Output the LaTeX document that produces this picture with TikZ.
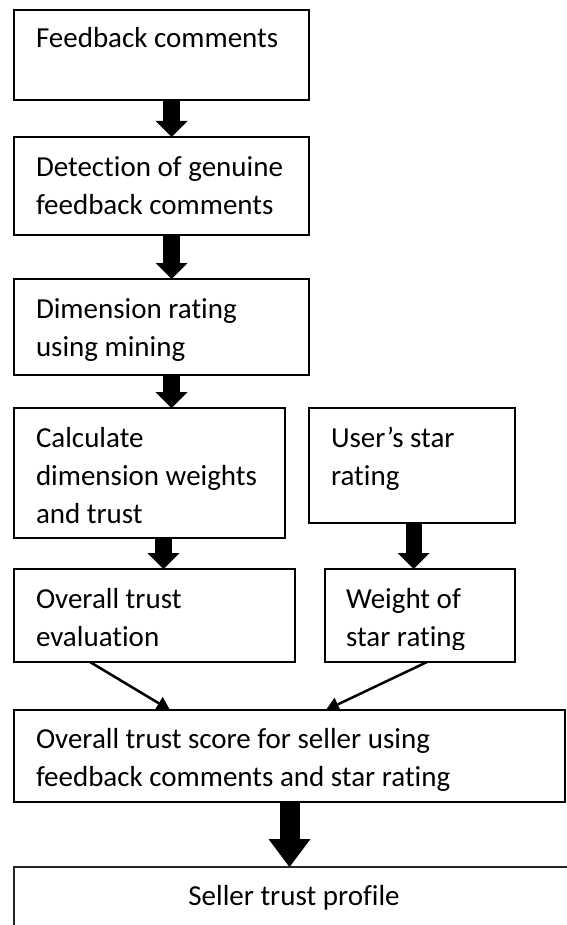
\documentclass[tikz,border=0pt]{standalone}
\usepackage{fontspec}
\setmainfont{Carlito}[Ligatures={NoCommon}]
\usetikzlibrary{arrows.meta}
\tikzset{
  box/.style={draw=black, line width=2pt, inner sep=0pt, outer sep=0pt, anchor=north west},
  openbox/.style={draw=black!85, line width=1.1pt, inner sep=0pt, outer sep=0pt, anchor=north west},
  lbl/.style={inner sep=0pt, outer sep=0pt, anchor=base west, font=\fontsize{29pt}{38pt}\selectfont},
  blockarrow/.style={line width=17pt, -{Triangle[width=32pt,length=16pt,line width=0pt]}},
  bigarrow/.style={line width=20pt, -{Triangle[width=42pt,length=28pt,line width=0pt]}},
  thinarrow/.style={line width=2.5pt, -{Triangle[width=15pt,length=13pt,line width=0pt]}},
}
\begin{document}
\begin{tikzpicture}[x=1pt, y=-1pt]
  \useasboundingbox (0,0) rectangle (566,925);

  % boxes
  \node[box, minimum width=295pt, minimum height=90pt]  (b1)     at (14,10)  {};
  \node[box, minimum width=295pt, minimum height=98pt]  (b2)     at (14,137) {};
  \node[box, minimum width=295pt, minimum height=96pt]  (b3)     at (14,279) {};
  \node[box, minimum width=271pt, minimum height=130pt] (calc)   at (14,408) {};
  \node[box, minimum width=206pt, minimum height=115pt] (user)   at (309,408) {};
  \node[box, minimum width=281pt, minimum height=93pt]  (eval)   at (14,569) {};
  \node[box, minimum width=190pt, minimum height=93pt]  (weight) at (325,569) {};
  \node[box, minimum width=551pt, minimum height=92pt]  (score)  at (14,710) {};
  \node[openbox, minimum width=600pt, minimum height=100pt] (profile) at (14,867) {};

  % box texts
  \node[lbl] (t1) at ([shift={(22pt,-38pt)}]b1.north west) {\parbox[t]{280pt}{Feedback comments}};
  \node[lbl] (t2) at ([shift={(22pt,-39.5pt)}]b2.north west) {\parbox[t]{280pt}{Detection of genuine\\feedback comments}};
  \node[lbl] (t3) at ([shift={(22pt,-39pt)}]b3.north west) {\parbox[t]{280pt}{Dimension rating\\using mining}};
  \node[lbl] (t4) at ([shift={(22pt,-39pt)}]calc.north west) {\parbox[t]{260pt}{Calculate\\dimension weights\\and trust}};
  \node[lbl] (t5) at ([shift={(22pt,-39pt)}]user.north west) {\parbox[t]{190pt}{User’s star\\rating}};
  \node[lbl] (t6) at ([shift={(22pt,-39pt)}]eval.north west) {\parbox[t]{260pt}{Overall trust\\evaluation}};
  \begin{scope}
    \clip (weight.north west) rectangle ([yshift=-80pt]weight.north east);
    \node[lbl] (t7) at ([shift={(21pt,-39pt)}]weight.north west) {\parbox[t]{180pt}{Weight of\\star rating}};
  \end{scope}
  \node[lbl] (t8) at ([shift={(22pt,-38pt)}]score.north west) {\parbox[t]{530pt}{Overall trust score for seller using\\feedback comments and star rating}};
  \node[lbl, anchor=base] (t9) at ([shift={(280pt,-38pt)}]profile.north west) {Seller trust profile};

  % arrow columns
  \coordinate (c1) at (171.5,0);
  \coordinate (c2) at (163.5,0);
  \coordinate (c3) at (413.5,0);
  \coordinate (d1) at (90,0);
  \coordinate (d2) at (170,0);
  \coordinate (d3) at (427,0);
  \coordinate (d4) at (326,0);

  % connectors
  \draw[blockarrow] (b1.south -| c1) -- (b2.north -| c1);
  \draw[blockarrow] (b2.south -| c1) -- (b3.north -| c1);
  \draw[blockarrow] (b3.south -| c1) -- (calc.north -| c1);
  \draw[blockarrow] (calc.south -| c2) -- (eval.north -| c2);
  \draw[blockarrow, line width=16pt] (user.south -| c3) -- (weight.north -| c3);
  \draw[thinarrow] (eval.south -| d1) -- (score.north -| d2);
  \draw[thinarrow] (weight.south -| d3) -- (score.north -| d4);
  \draw[bigarrow] (score.south) -- (profile.north -| score.south);
\end{tikzpicture}
\end{document}
